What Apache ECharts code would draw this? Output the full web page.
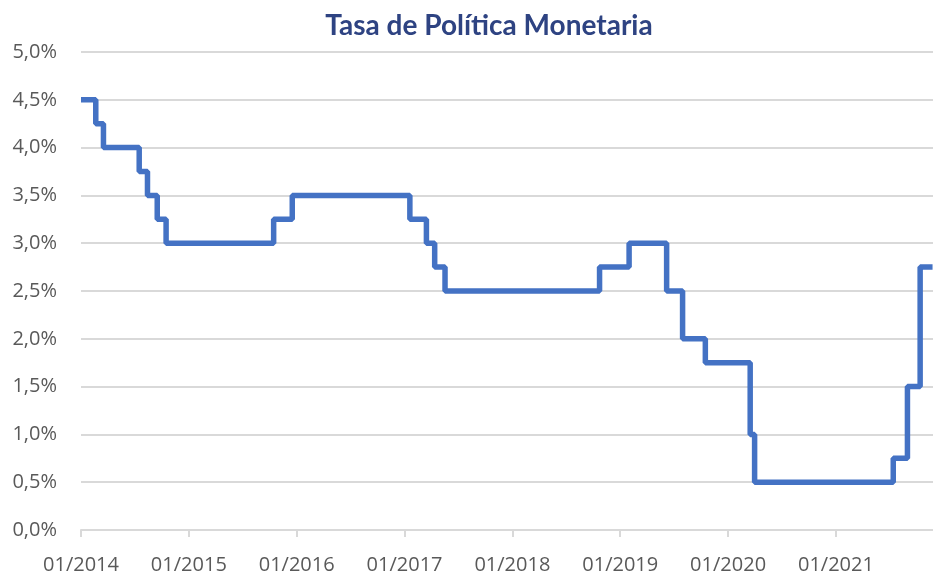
<!DOCTYPE html>
<html>
<head>
<meta charset="utf-8">
<script src="https://cdn.jsdelivr.net/npm/echarts@6/dist/echarts.min.js"></script>
<style>
  html, body { margin: 0; padding: 0; background: #fff; }
  #chart { width: 933px; height: 575px; }
</style>
</head>
<body>
<div id="chart"></div>
<script>
// fechas de cambio de la tasa y nivel vigente desde esa fecha
var fechas = ['2014-01-01', '2014-02-20', '2014-03-18', '2014-07-17', '2014-08-14', '2014-09-16', '2014-10-16',
              '2015-10-15', '2015-12-17', '2017-01-19', '2017-03-16', '2017-04-13', '2017-05-18',
              '2018-10-23', '2019-01-31', '2019-06-07', '2019-07-31', '2019-10-16',
              '2020-03-16', '2020-03-31', '2021-07-14', '2021-08-31', '2021-10-13', '2021-11-24'];
var tasas = [4.5, 4.25, 4.0, 3.75, 3.5, 3.25, 3.0,
             3.25, 3.5, 3.25, 3.0, 2.75, 2.5,
             2.75, 3.0, 2.5, 2.0, 1.75,
             1.0, 0.5, 0.75, 1.5, 2.75, 2.75];
var anios = [2014, 2015, 2016, 2017, 2018, 2019, 2020, 2021];
var ejeY = [0, 0.5, 1, 1.5, 2, 2.5, 3, 3.5, 4, 4.5, 5];

// fecha -> año decimal
function anioDecimal(f){
    var p = f.split('-');
    var y = +p[0];
    var ini = Date.UTC(y, 0, 1), fin = Date.UTC(y + 1, 0, 1);
    var d = Date.UTC(y, +p[1] - 1, +p[2]);
    return y + (d - ini) / (fin - ini);
}

var datos = [];
for (var i = 0; i < fechas.length; i++) {
    datos.push([anioDecimal(fechas[i]), tasas[i]]);
}

var chart = echarts.init(document.getElementById('chart'));
chart.setOption({
    animation: false,
    textStyle: { fontFamily: 'Open Sans' },
    title: {
        text: 'Tasa de Política Monetaria',
        left: 484,
        top: 7,
        textAlign: 'center',
        textStyle: { fontFamily: 'Lato', fontWeight: 'bold', fontSize: 28, color: '#2E4382' }
    },
    grid: { left: 81, right: 0, top: 52, bottom: 45, containLabel: false },
    xAxis: {
        type: 'value',
        min: anios[0],
        max: 2021.9,
        interval: 1,
        axisLine: { lineStyle: { color: '#d9d9d9', width: 2 } },
        axisTick: { show: true, length: 7, lineStyle: { color: '#d9d9d9', width: 2 } },
        axisLabel: {
            color: '#595959', fontSize: 20, margin: 25,
            showMaxLabel: false,
            formatter: function(v){ return anios.indexOf(v) >= 0 ? '01/' + v : ''; }
        },
        splitLine: { show: false }
    },
    yAxis: {
        type: 'value',
        min: ejeY[0],
        max: ejeY[ejeY.length - 1],
        interval: 0.5,
        axisLine: { show: false },
        axisTick: { show: false },
        axisLabel: {
            color: '#595959', fontSize: 20, margin: 24,
            formatter: function(v){ return v.toFixed(1).replace('.', ',') + '%'; }
        },
        splitLine: { lineStyle: { color: '#d9d9d9', width: 2 } }
    },
    series: [{
        type: 'line',
        step: 'end',
        data: datos,
        showSymbol: false,
        lineStyle: { color: '#4472C4', width: 5.5 },
        itemStyle: { color: '#4472C4' }
    }]
});
</script>
</body>
</html>
